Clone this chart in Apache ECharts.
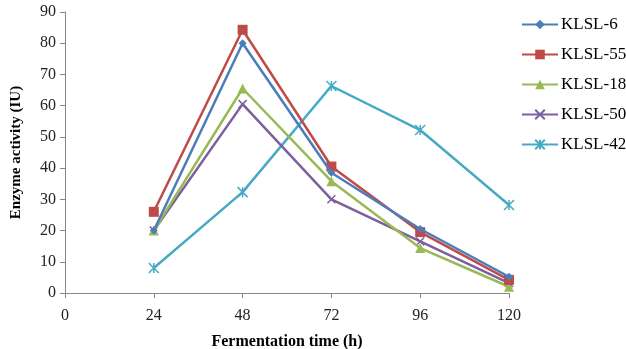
<!DOCTYPE html>
<html>
<head>
<meta charset="utf-8">
<script src="https://cdn.jsdelivr.net/npm/echarts@6/dist/echarts.min.js"></script>
<style>
  html, body { margin: 0; padding: 0; background: #fff; }
  #container { width: 626px; height: 349px; }
</style>
</head>
<body>
<div id="container"></div>
<script>
// fermentation time (h) and activity per strain
const hours = [24, 48, 72, 96, 120];
const klsl6 = [20, 80, 38.5, 20.5, 5.2];
const klsl55 = [26, 84.3, 40.5, 19.5, 4.2];
const klsl18 = [20, 65.5, 35.8, 14.4, 2];
const klsl50 = [20, 60.5, 30, 16.5, 3.2];
const klsl42 = [8, 32.3, 66.3, 52.2, 28.2];

const names = ['KLSL-6', 'KLSL-55', 'KLSL-18', 'KLSL-50', 'KLSL-42'];
const colors = ['#4a7ebb', '#be4b48', '#98b954', '#7d5fa0', '#46aac5'];
const symbols = ['diamond', 'rect', 'triangle',
  'path://M0,0L10,10M10,0L0,10',
  'path://M0,0L10,10M10,0L0,10M5,0L5,10'];
const sizes = [8, 10, 10, 8, 10];
const allData = [klsl6, klsl55, klsl18, klsl50, klsl42];

const font = 'Liberation Serif, Times New Roman, serif';

let graph = echarts.init(document.getElementById('container'));

let series = allData.map((vals, i) => ({
  name: names[i],
  type: 'line',
  data: hours.map((h, j) => [h, vals[j]]),
  symbol: symbols[i],
  symbolSize: sizes[i],
  showAllSymbol: true,
  z: 10 - i,
  lineStyle: { color: colors[i], width: 2.5 },
  itemStyle: {
    color: colors[i],
    borderColor: colors[i],
    borderWidth: (i >= 3) ? 1.5 : 0,
  },
}));

let option = {
  animation: false,
  grid: {
    left: 65,
    right: 117,
    top: 12,
    bottom: 56,
    outerBoundsMode: 'none',
  },
  legend: {
    orient: 'vertical',
    left: 521,
    top: 16,
    padding: 0,
    itemGap: 13,
    itemWidth: 36,
    itemHeight: 12,
    textStyle: { fontFamily: font, fontSize: 17, color: '#000', lineHeight: 17, padding: [0, 0, 0, -2] },
    data: names,
  },
  xAxis: {
    type: 'value',
    min: 0,
    max: 120,
    interval: 24,
    name: 'Fermentation time (h)',
    nameLocation: 'middle',
    nameGap: 41,
    nameTextStyle: { fontFamily: font, fontSize: 16, fontWeight: 'bold', color: '#000' },
    axisLine: { lineStyle: { color: '#868686', width: 1 } },
    axisTick: { show: true, length: 5, lineStyle: { color: '#868686' } },
    axisLabel: { fontFamily: font, fontSize: 16, color: '#222', margin: 15 },
    splitLine: { show: false },
  },
  yAxis: {
    type: 'value',
    min: 0,
    max: 90,
    interval: 10,
    name: 'Enzyme activity (IU)',
    nameLocation: 'middle',
    nameGap: 41,
    nameTextStyle: { fontFamily: font, fontSize: 15, fontWeight: 'bold', color: '#000' },
    axisLine: { show: true, lineStyle: { color: '#868686', width: 1 } },
    axisTick: { show: true, length: 5, lineStyle: { color: '#868686' } },
    axisLabel: { fontFamily: font, fontSize: 16, color: '#222', margin: 9 },
    splitLine: { show: false },
  },
  series: series,
};

graph.setOption(option);
</script>
</body>
</html>
